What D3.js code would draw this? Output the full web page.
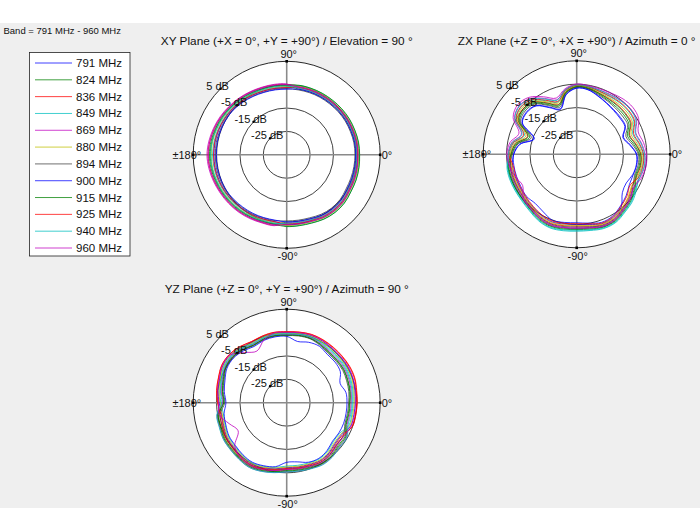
<!DOCTYPE html>
<html><head><meta charset="utf-8">
<script src="https://cdn.jsdelivr.net/npm/d3@7"></script>
<style>body{margin:0;background:#fff}svg{display:block;font-family:"Liberation Sans",Arial,sans-serif}</style>
</head><body><svg id="c" width="700" height="530"></svg>
<script>
const bandLabel = "Band = 791 MHz - 960 MHz";
const frequencies = ["791 MHz","824 MHz","836 MHz","849 MHz","869 MHz","880 MHz","894 MHz","900 MHz","915 MHz","925 MHz","940 MHz","960 MHz"];
const seriesColors = ["#0000ff","#008000","#ff0000","#00bfbf","#bf00bf","#bfbf00","#404040","#0000ff","#008000","#ff0000","#00bfbf","#bf00bf"];
const angleDeg = [0,10,20,30,40,50,60,70,80,90,100,110,120,130,140,150,160,170,180,190,200,210,220,230,240,250,260,270,280,290,300,310,320,330,340,350];
const ringDb = [-25,-15,-5,5];
const ringLabels = ["-25 dB","-15 dB","-5 dB","5 dB"];
const planeTitles = ["XY Plane (+X = 0°, +Y = +90°) / Elevation = 90 °","ZX Plane (+Z = 0°, +X = +90°) / Azimuth = 0 °","YZ Plane (+Z = 0°, +Y = +90°) / Azimuth = 90 °"];
const axisLabels = {right:"0°", top:"90°", left:"±180°", bottom:"-90°"};

// gain in dB per angle (angleDeg), one row per frequency
const xyGain = [
[-4.4,-4.4,-4.6,-4.7,-4.9,-5.1,-5.2,-5.3,-5.4,-6.4,-6.2,-6.0,-5.6,-5.1,-4.6,-4.3,-4.1,-3.9,-3.9,-3.9,-4.1,-4.3,-4.7,-5.1,-5.5,-5.8,-6.0,-5.0,-4.9,-4.6,-3.9,-3.5,-3.5,-4.0,-4.1,-4.3],
[-5.4,-5.4,-5.6,-5.7,-5.9,-6.1,-6.2,-6.3,-6.4,-5.5,-5.2,-5.0,-4.6,-4.1,-3.6,-3.2,-2.8,-2.5,-2.3,-2.5,-2.8,-3.2,-3.6,-4.0,-4.4,-4.8,-5.0,-6.2,-6.1,-5.8,-5.1,-4.7,-4.7,-5.2,-5.3,-5.4],
[-4.7,-4.7,-4.9,-5.0,-5.2,-5.4,-5.5,-5.6,-5.7,-4.9,-4.6,-4.4,-4.0,-3.5,-3.0,-2.5,-2.0,-1.6,-1.3,-1.6,-2.0,-2.5,-2.9,-3.3,-3.8,-4.2,-4.4,-5.4,-5.3,-5.0,-4.3,-3.9,-3.9,-4.4,-4.5,-4.6],
[-3.9,-3.9,-4.1,-4.2,-4.4,-4.6,-4.7,-4.8,-4.9,-6.0,-5.8,-5.6,-5.2,-4.7,-4.2,-3.9,-3.6,-3.4,-3.3,-3.4,-3.6,-3.9,-4.3,-4.7,-5.1,-5.4,-5.6,-4.4,-4.3,-4.0,-3.3,-2.9,-2.9,-3.4,-3.5,-3.7],
[-5.1,-5.1,-5.3,-5.4,-5.6,-5.8,-5.9,-6.0,-6.1,-4.7,-4.4,-4.2,-3.8,-3.3,-2.8,-2.2,-1.7,-1.2,-0.9,-1.2,-1.7,-2.2,-2.6,-3.0,-3.5,-4.0,-4.2,-5.9,-5.8,-5.5,-4.8,-4.4,-4.4,-4.9,-5.0,-5.0],
[-4.2,-4.2,-4.4,-4.5,-4.7,-4.9,-5.0,-5.1,-5.2,-5.7,-5.5,-5.3,-4.9,-4.4,-3.9,-3.5,-3.1,-2.8,-2.7,-2.8,-3.1,-3.5,-3.9,-4.3,-4.7,-5.1,-5.3,-4.8,-4.7,-4.4,-3.7,-3.3,-3.3,-3.8,-3.9,-4.0],
[-5.8,-5.8,-6.0,-6.1,-6.3,-6.5,-6.6,-6.7,-6.8,-6.7,-6.6,-6.4,-6.0,-5.5,-5.0,-4.7,-4.6,-4.4,-4.5,-4.4,-4.6,-4.7,-5.1,-5.5,-5.8,-6.2,-6.4,-6.7,-6.6,-6.3,-5.6,-5.2,-5.2,-5.7,-5.8,-5.8],
[-5.5,-5.5,-5.7,-5.8,-6.0,-6.2,-6.3,-6.4,-6.5,-6.9,-6.8,-6.6,-6.2,-5.7,-5.2,-5.0,-4.9,-4.8,-4.9,-4.8,-4.9,-5.0,-5.4,-5.8,-6.1,-6.4,-6.6,-6.3,-6.2,-5.9,-5.2,-4.8,-4.8,-5.3,-5.4,-5.5],
[-3.8,-3.8,-4.0,-4.1,-4.3,-4.5,-4.6,-4.7,-4.8,-5.3,-5.0,-4.8,-4.4,-3.9,-3.4,-2.9,-2.5,-2.1,-1.9,-2.1,-2.5,-2.9,-3.3,-3.7,-4.2,-4.6,-4.8,-4.3,-4.2,-3.9,-3.2,-2.8,-2.8,-3.3,-3.4,-3.6],
[-4.8,-4.8,-5.0,-5.1,-5.3,-5.5,-5.6,-5.7,-5.8,-6.2,-6.1,-5.9,-5.5,-5.0,-4.5,-4.2,-3.9,-3.7,-3.7,-3.7,-3.9,-4.2,-4.6,-5.0,-5.3,-5.7,-5.9,-5.5,-5.4,-5.1,-4.4,-4.0,-4.0,-4.5,-4.6,-4.7],
[-5.0,-5.0,-5.2,-5.3,-5.5,-5.7,-5.8,-5.9,-6.0,-5.6,-5.4,-5.2,-4.8,-4.3,-3.8,-3.3,-3.0,-2.6,-2.5,-2.6,-3.0,-3.3,-3.7,-4.1,-4.5,-5.0,-5.2,-5.7,-5.6,-5.3,-4.6,-4.2,-4.2,-4.7,-4.8,-4.9],
[-4.5,-4.5,-4.7,-4.8,-5.0,-5.2,-5.3,-5.4,-5.5,-5.0,-4.8,-4.6,-4.2,-3.7,-3.2,-2.6,-2.2,-1.7,-1.5,-1.7,-2.2,-2.6,-3.0,-3.4,-3.9,-4.4,-4.6,-5.1,-5.0,-4.7,-4.0,-3.6,-3.6,-4.1,-4.2,-4.4]
];
const zxGain = [
[-9.5,-12.0,-14.0,-11.2,-10.9,-10.5,-9.7,-8.5,-7.0,-6.7,-9.1,-14.6,-12.0,-8.0,-7.2,-8.2,-15.7,-10.4,-8.1,-7.1,-7.0,-6.8,-6.4,-5.7,-4.8,-4.2,-4.7,-5.0,-4.5,-3.4,-3.8,-5.4,-9.5,-10.5,-9.5,-9.1],
[-8.2,-10.2,-11.9,-9.2,-8.7,-8.6,-8.3,-7.5,-6.5,-6.2,-8.3,-13.0,-10.4,-6.6,-5.6,-6.8,-13.6,-9.1,-7.2,-5.6,-5.4,-5.3,-5.0,-4.3,-3.2,-2.5,-2.9,-3.2,-2.9,-2.0,-2.3,-3.8,-4.9,-6.5,-8.3,-7.8],
[-7.5,-9.3,-10.9,-8.1,-7.7,-7.6,-7.5,-7.1,-6.2,-5.9,-7.9,-12.3,-9.6,-5.8,-4.9,-6.1,-12.6,-8.4,-6.8,-6.5,-6.3,-6.2,-5.9,-5.2,-4.1,-3.5,-4.0,-4.3,-3.8,-2.9,-3.2,-4.7,-6.0,-7.6,-7.7,-7.2],
[-6.6,-8.1,-9.5,-6.8,-6.2,-6.3,-6.6,-6.4,-5.8,-5.5,-7.4,-11.2,-8.5,-4.9,-3.8,-5.2,-11.2,-7.5,-6.2,-4.7,-4.4,-4.4,-4.2,-3.5,-2.2,-1.5,-1.8,-2.1,-1.9,-1.2,-1.4,-2.8,-3.8,-5.4,-6.9,-6.4],
[-5.8,-6.9,-8.1,-5.4,-4.8,-5.1,-5.6,-5.8,-5.5,-5.2,-6.9,-10.2,-7.4,-3.9,-2.8,-4.3,-9.8,-6.7,-5.6,-5.9,-5.7,-5.6,-5.3,-4.6,-3.5,-2.9,-3.2,-3.5,-3.2,-2.3,-2.6,-4.1,-5.2,-6.8,-6.1,-5.5],
[-7.1,-8.7,-10.2,-7.5,-6.9,-7.0,-7.1,-6.7,-6.0,-5.7,-7.7,-11.7,-9.0,-5.4,-4.3,-5.7,-11.9,-8.0,-6.5,-6.8,-6.6,-6.5,-6.2,-5.5,-4.4,-3.9,-4.3,-4.6,-4.1,-3.2,-3.5,-5.0,-6.3,-7.9,-7.3,-6.8],
[-8.6,-10.8,-12.6,-9.8,-9.5,-9.2,-8.7,-7.9,-6.6,-6.3,-8.6,-13.6,-10.9,-7.0,-6.2,-7.3,-14.3,-9.5,-7.5,-6.2,-6.0,-5.9,-5.6,-4.9,-3.8,-3.2,-3.6,-3.9,-3.5,-2.6,-2.9,-4.4,-5.6,-7.2,-8.7,-8.3],
[-9.3,-11.7,-13.7,-10.9,-10.5,-10.2,-9.5,-8.3,-6.9,-6.6,-9.0,-14.3,-11.7,-7.8,-6.9,-8.0,-15.4,-10.2,-8.0,-7.7,-7.6,-7.4,-7.0,-7.5,-6.5,-4.9,-5.4,-5.7,-5.1,-4.0,-4.4,-6.0,-7.4,-9.0,-9.3,-8.9],
[-7.7,-9.6,-11.2,-8.5,-8.0,-7.9,-7.8,-7.2,-6.3,-6.0,-8.1,-12.5,-9.8,-6.1,-5.1,-6.4,-12.9,-8.6,-6.9,-5.3,-5.0,-5.0,-4.8,-4.1,-2.8,-2.2,-2.5,-2.8,-2.5,-1.8,-2.0,-3.4,-4.5,-6.1,-7.9,-7.4],
[-6.4,-7.8,-9.1,-6.4,-5.9,-6.0,-6.3,-6.3,-5.7,-5.4,-7.3,-11.0,-8.2,-4.6,-3.6,-5.0,-10.8,-7.3,-6.0,-7.4,-7.3,-7.1,-6.7,-6.0,-5.1,-4.6,-5.0,-5.3,-4.8,-3.7,-4.1,-5.7,-7.0,-8.6,-6.7,-6.2],
[-6.0,-7.2,-8.4,-5.8,-5.1,-5.4,-5.9,-5.9,-5.6,-5.3,-7.0,-10.4,-7.7,-4.2,-3.0,-4.5,-10.1,-6.9,-5.7,-5.0,-4.7,-4.7,-4.5,-3.8,-2.5,-1.8,-2.2,-2.5,-2.2,-1.5,-1.7,-3.1,-4.2,-5.8,-6.3,-5.7],
[-5.1,-6.0,-7.0,-4.4,-3.7,-4.1,-4.9,-5.3,-5.2,-4.9,-6.5,-9.4,-6.6,-3.2,-2.0,-3.6,-8.7,-6.0,-5.1,-5.8,-7.0,-8.3,-5.2,-4.5,-3.3,-2.7,-3.1,-3.4,-3.0,-2.2,-2.5,-3.9,-5.1,-6.7,-5.5,-4.9]
];
const yzGain = [
[-5.7,-5.4,-4.9,-4.7,-4.8,-4.8,-4.5,-4.4,-4.7,-5.0,-4.8,-5.0,-5.3,-4.2,-3.4,-3.4,-4.5,-5.2,-6.1,-6.7,-6.3,-5.5,-5.4,-5.0,-4.7,-5.4,-6.3,-7.2,-7.1,-6.9,-6.4,-6.9,-8.0,-7.8,-5.9,-5.8],
[-7.9,-7.4,-7.1,-6.7,-6.8,-6.8,-6.1,-5.6,-5.7,-6.0,-5.8,-6.0,-6.5,-5.4,-4.6,-4.7,-6.0,-6.9,-7.9,-5.4,-5.1,-4.4,-4.3,-4.0,-3.7,-4.4,-5.3,-6.1,-6.0,-5.7,-5.1,-5.5,-6.4,-6.2,-7.9,-7.9],
[-5.0,-4.8,-4.2,-4.1,-4.2,-4.2,-4.1,-4.0,-4.4,-4.7,-4.5,-4.7,-4.9,-3.8,-3.0,-3.0,-4.0,-4.7,-5.6,-5.9,-5.5,-4.8,-4.7,-4.3,-4.0,-4.7,-5.6,-6.5,-6.4,-6.1,-5.6,-6.0,-7.0,-6.8,-5.3,-5.2],
[-6.6,-6.2,-5.8,-5.5,-5.6,-5.6,-5.2,-4.9,-5.1,-5.4,-5.2,-5.4,-5.8,-4.7,-3.9,-3.9,-5.1,-5.9,-6.8,-7.5,-7.0,-6.2,-6.1,-5.6,-5.3,-6.0,-6.9,-7.9,-7.8,-7.6,-7.2,-7.8,-9.0,-8.8,-6.7,-6.7],
[-7.4,-7.0,-6.6,-6.3,-6.4,-6.4,-5.8,-5.3,-5.5,-5.8,-5.6,-5.8,-6.2,-5.1,-4.3,-4.5,-5.7,-6.5,-7.6,-4.8,-4.5,-3.8,-3.7,-3.4,-3.1,-3.8,-4.7,-5.5,-5.4,-5.1,-4.5,-4.8,-5.6,-5.4,-7.5,-7.5],
[-6.1,-5.8,-5.3,-5.1,-5.2,-5.2,-4.9,-4.6,-4.9,-5.2,-5.0,-5.2,-5.5,-4.4,-3.6,-3.7,-4.8,-5.5,-6.5,-7.0,-6.6,-5.8,-5.7,-5.3,-5.0,-5.7,-6.6,-7.5,-7.4,-7.2,-6.7,-7.3,-8.4,-8.2,-6.3,-6.3],
[-8.5,-8.0,-7.7,-7.3,-7.4,-7.4,-6.6,-5.9,-6.0,-6.3,-6.1,-6.3,-6.8,-5.7,-4.9,-5.1,-6.5,-7.4,-8.5,-6.0,-5.7,-5.0,-4.9,-4.5,-4.2,-4.9,-5.8,-6.7,-6.6,-6.3,-5.7,-6.2,-7.2,-7.0,-8.5,-8.6],
[-9.2,-9.3,-10.7,-8.5,-8.0,-8.0,-7.1,-7.5,-8.4,-6.6,-6.4,-6.6,-7.2,-6.1,-5.3,-5.5,-6.9,-7.9,-9.0,-7.8,-7.3,-6.5,-6.4,-5.9,-5.6,-6.3,-7.2,-9.5,-9.3,-7.9,-7.5,-8.2,-9.4,-9.2,-9.1,-9.2],
[-8.1,-7.6,-7.3,-6.9,-7.0,-7.0,-6.3,-5.7,-5.8,-6.1,-5.9,-6.1,-6.6,-5.5,-4.7,-4.9,-6.2,-7.1,-8.1,-5.1,-4.8,-4.1,-4.0,-3.7,-3.4,-4.1,-5.0,-5.8,-5.7,-5.4,-4.8,-5.1,-6.0,-5.8,-8.1,-8.2],
[-4.8,-4.6,-4.0,-3.9,-4.0,-4.0,-3.9,-3.9,-4.3,-4.6,-4.4,-4.6,-4.8,-3.7,-2.9,-2.9,-3.9,-4.5,-5.4,-6.4,-6.0,-5.2,-5.1,-4.7,-4.4,-5.1,-6.0,-6.9,-6.8,-6.6,-6.1,-6.6,-7.6,-7.4,-5.1,-5.0],
[-7.0,-6.6,-6.2,-5.9,-6.0,-6.0,-5.5,-5.1,-5.3,-5.6,-5.4,-5.6,-6.0,-4.9,-4.1,-4.2,-5.4,-6.2,-7.2,-4.6,-4.3,-3.7,-3.6,-3.3,-3.0,-3.7,-4.6,-5.4,-5.3,-4.9,-4.3,-4.6,-5.4,-5.2,-7.1,-7.1],
[-5.5,-5.2,-4.7,-4.5,-4.6,-4.6,-4.4,-4.3,-4.6,-4.9,-4.7,-6.5,-9.5,-7.0,-3.3,-3.3,-4.4,-5.0,-5.9,-5.7,-8.8,-11.0,-6.0,-4.2,-3.9,-4.6,-5.5,-6.4,-6.3,-6.0,-5.4,-5.9,-6.8,-6.6,-5.7,-5.6]
];

const svg = d3.select("#c");
svg.append("rect").attr("x",0).attr("y",23).attr("width",700).attr("height",485).attr("fill","#efefef");

svg.append("text").attr("x",3.5).attr("y",34).attr("font-size",9.5).attr("fill","#111").text(bandLabel);

// legend
const lg = svg.append("g");
lg.append("rect").attr("x",29.5).attr("y",52.5).attr("width",100.5).attr("height",203.5)
  .attr("fill","#fff").attr("stroke","#222").attr("stroke-width",0.8);
const ly = d3.scaleLinear().domain([0, frequencies.length-1]).range([63, 248]);
frequencies.forEach((f,i)=>{
  lg.append("line").attr("x1",35).attr("x2",72).attr("y1",ly(i)).attr("y2",ly(i))
    .attr("stroke",seriesColors[i]).attr("stroke-width",1).attr("stroke-opacity",0.75);
  lg.append("text").attr("x",76).attr("y",ly(i)+4).attr("font-size",11.5).attr("fill","#111").text(f);
});

const R = 93.5;
const rScale = d3.scaleLinear().domain([-35,5]).range([0,R]);

function polarPlot(cx, cy, title, gains){
  const g = svg.append("g").attr("transform",`translate(${cx},${cy})`);
  g.append("text").attr("x",0).attr("y",-R-16).attr("text-anchor","middle").attr("font-size",11.8).attr("fill","#111").text(title);
  g.append("circle").attr("r",R).attr("fill","#fff").attr("stroke","#111").attr("stroke-width",0.9);
  ringDb.slice(0,3).forEach(d=>{
    g.append("circle").attr("r",rScale(d)).attr("fill","none").attr("stroke","#111").attr("stroke-width",0.8);
  });
  g.append("line").attr("x1",-R).attr("x2",R).attr("y1",0).attr("y2",0).attr("stroke","#8a8a8a").attr("stroke-width",1.6);
  g.append("line").attr("y1",-R).attr("y2",R).attr("x1",0).attr("x2",0).attr("stroke","#8a8a8a").attr("stroke-width",1.6);

  const line = d3.lineRadial()
    .angle((d,i)=> (90 - angleDeg[i]) * Math.PI/180)
    .radius(d => rScale(d))
    .curve(d3.curveCatmullRomClosed.alpha(0.5));
  gains.forEach((row,k)=>{
    g.append("path").attr("d", line(row)).attr("fill","none")
      .attr("stroke",seriesColors[k]).attr("stroke-width",1).attr("stroke-opacity",0.8);
  });

  // axis end markers
  [[R,0],[-R,0],[0,-R],[0,R]].forEach(p=>{
    g.append("rect").attr("x",p[0]-1.3).attr("y",p[1]-1.3).attr("width",2.6).attr("height",2.6).attr("fill","#000");
  });
  // ring labels at 135°
  const a = 135*Math.PI/180;
  ringDb.forEach((d,i)=>{
    const rr = rScale(d);
    const x = rr*Math.cos(a), y = -rr*Math.sin(a);
    g.append("circle").attr("cx",x).attr("cy",y).attr("r",1.3).attr("fill","#000");
    g.append("text").attr("x",x-3).attr("y",y+1).attr("text-anchor","middle").attr("font-size",11).attr("fill","#111").text(ringLabels[i]);
  });
  g.append("text").attr("x",2).attr("y",-R-3.5).attr("text-anchor","middle").attr("font-size",11).attr("fill","#111").text(axisLabels.top);
  g.append("text").attr("x",1).attr("y",R+12).attr("text-anchor","middle").attr("font-size",11).attr("fill","#111").text(axisLabels.bottom);
  g.append("text").attr("x",-R+8).attr("y",4).attr("text-anchor","end").attr("font-size",11).attr("fill","#111").text(axisLabels.left);
  g.append("text").attr("x",R+1.5).attr("y",4).attr("text-anchor","start").attr("font-size",11).attr("fill","#111").text(axisLabels.right);
}

polarPlot(286.7, 154.8, planeTitles[0], xyGain);
polarPlot(576.7, 154.3, planeTitles[1], zxGain);
polarPlot(286.7, 402.7, planeTitles[2], yzGain);
</script></body></html>
